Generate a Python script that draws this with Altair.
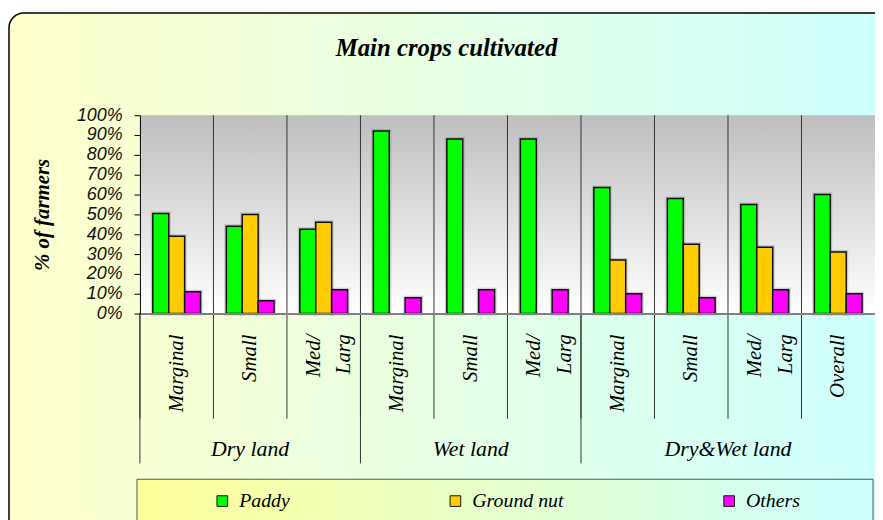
import altair as alt
import pandas as pd

# ---- data ----
groups = ["Dry land"] * 3 + ["Wet land"] * 3 + ["Dry&Wet land"] * 4
sizes = ["Marginal", "Small", "Med/\nLarg", "Marginal", "Small", "Med/\nLarg",
         "Marginal", "Small", "Med/\nLarg", "Overall"]
paddy = [50.5, 44, 42.5, 92, 88, 88, 63.5, 58, 55, 60]
groundnut = [39, 50, 46, None, None, None, 27, 35, 33.5, 31]
others = [11, 6.5, 12, 8, 12, 12, 10, 8, 12, 10]
crops = ["Paddy", "Ground nut", "Others"]
crop_colors = ["#00FF00", "#FFCC00", "#FF00FF"]
y_ticks = [0, 0.1, 0.2, 0.3, 0.4, 0.5, 0.6, 0.7, 0.8, 0.9, 1.0]

keys = [f"{g}|{s}" for g, s in zip(groups, sizes)]

rows = []
for k, series in zip(crops, [paddy, groundnut, others]):
    for key, v in zip(keys, series):
        if v is not None:
            rows.append({"key": key, "crop": k, "value": v / 100})
bars_df = pd.DataFrame(rows)

cats_df = pd.DataFrame({"key": keys, "label": sizes, "group": groups})
inner_df = cats_df.iloc[1:]
group_start_df = cats_df.drop_duplicates("group")
one = pd.DataFrame({"t": ["Main crops cultivated"]})

W, H = 741, 200
xscale = alt.Scale(domain=keys, paddingInner=0, paddingOuter=0)
yscale = alt.Scale(domain=[0, 1])

serif = "Liberation Serif"

x_axis = alt.Axis(labels=False, ticks=False, title=None, domainColor="#808080",
                  domainWidth=2, grid=False, zindex=1)
y_axis = alt.Axis(values=y_ticks, format=".0%", grid=False, labelOverlap=False,
                  labelFont="Liberation Sans", labelFontStyle="italic",
                  labelFontSize=18, labelColor="#111", labelPadding=12,
                  tickSize=6, tickColor="#000", domainColor="#000", domainWidth=1,
                  title="% of farmers", titleFont=serif, titleFontStyle="italic",
                  titleFontWeight="bold", titleFontSize=21, titleColor="#000",
                  titleX=-98, titleY=100, titleAngle=270, titleBaseline="middle",
                  titleAlign="center", zindex=1)

bg = alt.Chart(one).mark_rect(
    cornerRadius=15, stroke="#000", strokeWidth=1.5,
    fill=alt.Gradient(gradient="linear",
                      stops=[alt.GradientStop(color="#FFFFCC", offset=0),
                             alt.GradientStop(color="#CCFFFF", offset=1)],
                      x1=0, x2=1, y1=0, y2=0)
).encode(x=alt.value(-132), x2=alt.value(780), y=alt.value(-103), y2=alt.value(460))

plotbg = alt.Chart(one).mark_rect(
    fill=alt.Gradient(gradient="linear",
                      stops=[alt.GradientStop(color="#BEBEBE", offset=0),
                             alt.GradientStop(color="#FFFFFF", offset=1)],
                      x1=0, x2=0, y1=0, y2=1)
).encode(x=alt.value(0), x2=alt.value(W), y=alt.value(0), y2=alt.value(H))

legbox = alt.Chart(one).mark_rect(
    stroke="#555", strokeWidth=1,
    fill=alt.Gradient(gradient="linear",
                      stops=[alt.GradientStop(color="#FFFF99", offset=0),
                             alt.GradientStop(color="#CCFFFF", offset=1)],
                      x1=0, x2=1, y1=0, y2=0)
).encode(x=alt.value(-3), x2=alt.value(739), y=alt.value(367), y2=alt.value(430))

inner_rules = alt.Chart(inner_df).mark_rule(color="#333", strokeWidth=1).encode(
    x=alt.X("key:N", scale=xscale, bandPosition=0, axis=x_axis),
    y=alt.value(0), y2=alt.value(H))

cat_rules = alt.Chart(cats_df).mark_rule(color="#333", strokeWidth=1).encode(
    x=alt.X("key:N", scale=xscale, bandPosition=0, axis=x_axis),
    y=alt.value(H), y2=alt.value(306))

group_rules = alt.Chart(group_start_df).mark_rule(color="#333", strokeWidth=1).encode(
    x=alt.X("key:N", scale=xscale, bandPosition=0, axis=x_axis),
    y=alt.value(H), y2=alt.value(351))

xoff = alt.XOffset("crop:N", scale=alt.Scale(domain=crops, paddingInner=0, paddingOuter=0.81))

shadow = alt.Chart(bars_df).mark_bar(
    fill="#000", fillOpacity=0.0, stroke="#777", strokeOpacity=0.35, strokeWidth=4
).encode(
    x=alt.X("key:N", scale=xscale, axis=x_axis),
    xOffset=xoff,
    y=alt.Y("value:Q", scale=yscale, axis=y_axis),
)

bars = alt.Chart(bars_df).mark_bar(stroke="#111", strokeWidth=1.5, opacity=1).encode(
    x=alt.X("key:N", scale=xscale, axis=x_axis),
    xOffset=xoff,
    y=alt.Y("value:Q", scale=yscale, axis=y_axis),
    color=alt.Color("crop:N", scale=alt.Scale(domain=crops, range=crop_colors),
                    legend=alt.Legend(orient="none", legendX=73, legendY=379,
                                      direction="horizontal", title=None,
                                      symbolType="square", symbolSize=115,
                                      symbolStrokeColor="#111", symbolStrokeWidth=1,
                                      symbolOpacity=1,
                                      labelFont=serif, labelFontStyle="italic",
                                      labelFontSize=20, labelColor="#000",
                                      labelOffset=7, columnPadding=156, padding=0,
                                      zindex=1)),
)

single_df = cats_df[~cats_df["label"].str.contains("\n")]
double_df = cats_df[cats_df["label"].str.contains("\n")]
xl_style = dict(angle=270, align="right", baseline="middle", font=serif, fontStyle="italic",
                fontSize=21, lineBreak="\n", lineHeight=31, color="#000")
xlabels1 = alt.Chart(single_df).mark_text(**xl_style).encode(
    x=alt.X("key:N", scale=xscale, axis=x_axis), y=alt.value(221), text="label:N")
xlabels2 = alt.Chart(double_df).mark_text(dy=-10, **xl_style).encode(
    x=alt.X("key:N", scale=xscale, axis=x_axis), y=alt.value(221), text="label:N")

mid_df = cats_df[cats_df["key"].isin(["Dry land|Small", "Wet land|Small"])]
end_df = cats_df[cats_df["key"].isin(["Dry&Wet land|Small"])]
gtext_style = dict(align="center", baseline="middle", font=serif, fontStyle="italic",
                   fontSize=22, color="#000")
glabels1 = alt.Chart(mid_df).mark_text(**gtext_style).encode(
    x=alt.X("key:N", scale=xscale, bandPosition=0.5, axis=x_axis),
    y=alt.value(337), text="group:N")
glabels2 = alt.Chart(end_df).mark_text(**gtext_style).encode(
    x=alt.X("key:N", scale=xscale, bandPosition=1, axis=x_axis),
    y=alt.value(337), text="group:N")

title = alt.Chart(one).mark_text(
    align="center", baseline="middle", font=serif, fontStyle="italic", fontWeight="bold",
    fontSize=25, color="#000"
).encode(x=alt.value(309), y=alt.value(-68), text="t:N")

chart = alt.layer(
    bg, legbox, plotbg, inner_rules, cat_rules, group_rules, shadow, bars,
    xlabels1, xlabels2, glabels1, glabels2, title
).properties(
    width=W, height=H,
    autosize=alt.AutoSizeParams(type="none"),
    padding={"left": 133, "top": 106, "right": 0, "bottom": 206},
).configure_view(stroke=None).configure(background="white")

chart.save("out.html", embed_options={"renderer": "svg", "actions": False})
